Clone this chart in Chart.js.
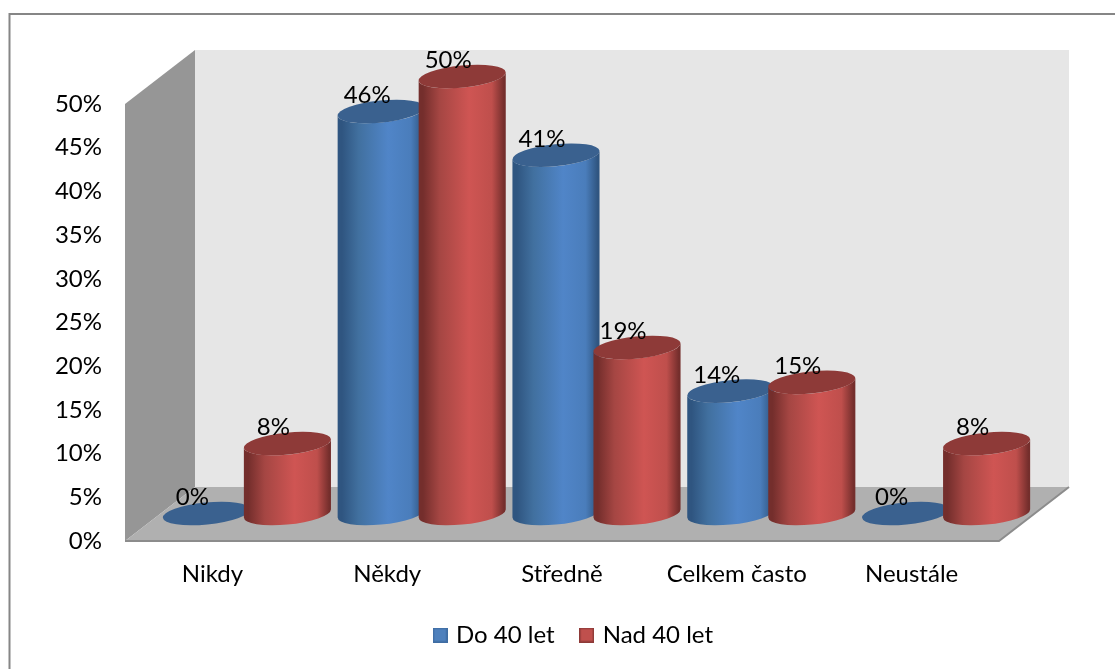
<!DOCTYPE html>
<html lang="cs">
<head>
<meta charset="utf-8">
<title>Do 40 let / Nad 40 let</title>
<script src="https://cdn.jsdelivr.net/npm/chart.js@4/dist/chart.umd.js"></script>
<style>
  html, body { margin: 0; padding: 0; background: #fff; overflow: hidden; }
  #plocha { display: block; }
</style>
</head>
<body>
<canvas id="plocha" width="1115" height="669"></canvas>
<script>
const kategorie = ['Nikdy', 'Někdy', 'Středně', 'Celkem často', 'Neustále'];
const do40let = [0, 46, 41, 14, 0];
const nad40let = [8, 50, 19, 15, 8];
const nazvySerii = ['Do 40 let', 'Nad 40 let'];

const PISMO = 'Lato, Carlito, sans-serif';
const VEL_PISMA = 24;

// posun zadni steny proti prednimu okraji grafu
const HLOUBKA_X = 70;
const HLOUBKA_Y = -54;
// valce stoji uprostred hloubky podlahy
const VALEC_X = 34.5;
const VALEC_Y = -27.5;
const NAKLON = -0.1;
const ELIPSA_B = 11;

const barvyValce = [
  { okraj: '#2f5580', stin: '#41709f', svetlo: '#5085c8', stred: '#4a7dbb', vrch: '#3a618f' },
  { okraj: '#742e2c', stin: '#a54643', svetlo: '#cf5553', stred: '#bf4f4c', vrch: '#8e3a38' }
];

// ctverecek legendy, blize textu nez vychozi box
function ctverecek(vypln, linka) {
  const c = document.createElement('canvas');
  c.width = 15;
  c.height = 15;
  const x = c.getContext('2d');
  x.fillStyle = vypln;
  x.fillRect(0, 0, 15, 15);
  x.strokeStyle = linka;
  x.lineWidth = 1.5;
  x.strokeRect(0.75, 0.75, 13.5, 13.5);
  return c;
}
const znackyLegendy = [ctverecek('#4f81bd', '#3f6da3'), ctverecek('#c0504d', '#8e3a38')];

function kvad(ctx, body, vypln) {
  ctx.beginPath();
  body.forEach((b, i) => i ? ctx.lineTo(b[0], b[1]) : ctx.moveTo(b[0], b[1]));
  ctx.closePath();
  ctx.fillStyle = vypln;
  ctx.fill();
}

function kresliValec(ctx, el, barva) {
  const cx = el.x + VALEC_X;
  const vrchY = el.y + VALEC_Y;
  const spodY = el.base + VALEC_Y;
  const a = el.width / 2;
  const b = ELIPSA_B;

  // parametr bodu elipsy s nejvetsim x
  const t0 = Math.atan2(-b * Math.sin(NAKLON), a * Math.cos(NAKLON));
  const kx = a * Math.cos(t0) * Math.cos(NAKLON) - b * Math.sin(t0) * Math.sin(NAKLON);
  const ky = a * Math.cos(t0) * Math.sin(NAKLON) + b * Math.sin(t0) * Math.cos(NAKLON);

  if (spodY - vrchY > 0.5) {
    const g = ctx.createLinearGradient(cx - kx, 0, cx + kx, 0);
    g.addColorStop(0, barva.okraj);
    g.addColorStop(0.05, barva.okraj);
    g.addColorStop(0.24, barva.stin);
    g.addColorStop(0.58, barva.svetlo);
    g.addColorStop(0.84, barva.stred);
    g.addColorStop(0.98, barva.okraj);
    g.addColorStop(1, barva.okraj);
    ctx.beginPath();
    ctx.moveTo(cx + kx, vrchY + ky);
    ctx.lineTo(cx + kx, spodY + ky);
    ctx.ellipse(cx, spodY, a, b, NAKLON, t0, t0 + Math.PI, false);
    ctx.lineTo(cx - kx, vrchY - ky);
    ctx.ellipse(cx, vrchY, a, b, NAKLON, t0 + Math.PI, t0, true);
    ctx.closePath();
    ctx.fillStyle = g;
    ctx.fill();
  }

  ctx.beginPath();
  ctx.ellipse(cx, vrchY, a, b, NAKLON, 0, Math.PI * 2);
  ctx.fillStyle = barva.vrch;
  ctx.fill();
}

const prostor3d = {
  id: 'prostor3d',
  afterLayout(chart) {
    // legenda sedi vpravo od stredu plochy a tesneji pod popisky
    const lg = chart.legend;
    lg.left += 60;
    lg.right += 60;
    const h = lg.bottom - lg.top;
    lg.top = 595;
    lg.bottom = lg.top + h;
  },
  beforeDraw(chart) {
    const { ctx, chartArea: o } = chart;
    ctx.save();
    ctx.fillStyle = '#fff';
    ctx.fillRect(0, 0, chart.width, chart.height);

    // ramecek grafu, vpravo a dole konci az na okraji
    ctx.strokeStyle = '#868686';
    ctx.lineWidth = 2;
    ctx.beginPath();
    ctx.moveTo(9.5, chart.height + 2);
    ctx.lineTo(9.5, 14);
    ctx.lineTo(chart.width + 2, 14);
    ctx.stroke();

    const zx = HLOUBKA_X, zy = HLOUBKA_Y;
    kvad(ctx, [[o.left + zx, o.top + zy], [o.right + zx, o.top + zy], [o.right + zx, o.bottom + zy], [o.left + zx, o.bottom + zy]], '#e6e6e6');
    kvad(ctx, [[o.left, o.top], [o.left + zx, o.top + zy], [o.left + zx, o.bottom + zy], [o.left, o.bottom]], '#969696');
    kvad(ctx, [[o.left, o.bottom], [o.left + zx, o.bottom + zy], [o.right + zx, o.bottom + zy], [o.right, o.bottom]], '#b0b0b0');

    ctx.strokeStyle = '#8c8c8c';
    ctx.lineWidth = 2;
    ctx.beginPath();
    ctx.moveTo(o.left, o.bottom);
    ctx.lineTo(o.right, o.bottom);
    ctx.lineTo(o.right + zx, o.bottom + zy);
    ctx.stroke();
    ctx.restore();
  },
  // sloupce nahrazuji valce, ty se kresli az po vsech datasetech
  beforeDatasetDraw() {
    return false;
  },
  afterDatasetsDraw(chart) {
    const { ctx } = chart;
    ctx.save();
    chart.data.datasets.forEach((ds, i) => {
      chart.getDatasetMeta(i).data.forEach(el => kresliValec(ctx, el, barvyValce[i]));
    });

    ctx.fillStyle = '#000';
    ctx.font = VEL_PISMA + 'px ' + PISMO;
    ctx.textAlign = 'center';
    ctx.textBaseline = 'middle';
    chart.data.datasets.forEach((ds, i) => {
      chart.getDatasetMeta(i).data.forEach((el, j) => {
        ctx.fillText(ds.data[j] + '%', el.x + VALEC_X - 14, el.y + VALEC_Y - 16);
      });
    });
    ctx.restore();
  }
};

new Chart(document.getElementById('plocha'), {
  type: 'bar',
  plugins: [prostor3d],
  data: {
    labels: kategorie,
    datasets: [
      { label: nazvySerii[0], data: do40let, backgroundColor: '#4f81bd', borderColor: '#3f6da3', borderWidth: 1 },
      { label: nazvySerii[1], data: nad40let, backgroundColor: '#c0504d', borderColor: '#8e3a38', borderWidth: 1 }
    ]
  },
  options: {
    responsive: false,
    animation: false,
    datasets: { bar: { categoryPercentage: 0.927, barPercentage: 1.08 } },
    layout: { padding: { top: 104, left: 30, right: 116, bottom: 0 } },
    plugins: {
      tooltip: { enabled: false },
      legend: {
        position: 'bottom',
        labels: {
          usePointStyle: true,
          pointStyleWidth: 8,
          padding: 28,
          color: '#000',
          font: { family: PISMO, size: VEL_PISMA },
          generateLabels(chart) {
            const polozky = Chart.defaults.plugins.legend.labels.generateLabels(chart);
            polozky.forEach((p, i) => { p.pointStyle = znackyLegendy[i]; });
            return polozky;
          }
        }
      }
    },
    scales: {
      x: {
        grid: { display: false },
        border: { display: false },
        ticks: { color: '#000', padding: 11, font: { family: PISMO, size: VEL_PISMA }, maxRotation: 0 },
        afterFit(scale) { scale.height = 66; }
      },
      y: {
        min: 0,
        max: 50,
        grid: { display: false },
        border: { display: false },
        ticks: {
          stepSize: 5,
          color: '#000',
          padding: 15,
          font: { family: PISMO, size: VEL_PISMA },
          callback: v => v + '%'
        },
        afterFit(scale) { scale.width = 95; }
      }
    }
  }
});
</script>
</body>
</html>
